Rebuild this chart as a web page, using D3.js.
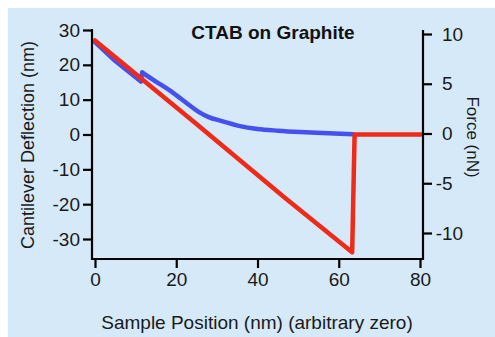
<!DOCTYPE html>
<html>
<head>
<meta charset="utf-8">
<script src="https://cdn.jsdelivr.net/npm/d3@7"></script>
<style>
  html, body { margin: 0; padding: 0; background: #fff; }
  svg { display: block; font-family: 'Liberation Sans', Arial, sans-serif; }
</style>
</head>
<body>
<svg id="chart" width="495" height="337"></svg>
<script>
// data (deflection in nm vs sample position in nm)
const approachTop = [[0, 26.5], [5, 21.1], [11.3, 15.2], [11.6, 17.8]];
const approachRest = [
  [11.6, 17.8], [15, 15.2], [19.3, 11.9], [23, 8.6], [25.5, 6.5], [28, 5.0],
  [31, 3.9], [35.7, 2.4], [40, 1.6], [45, 1.1], [50.5, 0.7], [56, 0.4], [63.5, 0.1]
];
const retract = [
  [0, 27], [25.2, 2.8], [46.8, -18.2], [63.3, -33.8], [63.9, 0], [80.4, 0]
];
const xTicks = [0, 20, 40, 60, 80];
const deflTicks = [-30, -20, -10, 0, 10, 20, 30];
const forceTicks = [-10, -5, 0, 5, 10];

const title = 'CTAB on Graphite';
const xLabel = 'Sample Position (nm) (arbitrary zero)';
const yLabel = 'Cantilever Deflection (nm)';
const y2Label = 'Force (nN)';

const W = 495, H = 337;
const box = { left: 92, right: 423, top: 29, bottom: 259 };

const svg = d3.select('#chart');

// light blue panel
svg.append('rect')
  .attr('x', 8).attr('y', 8)
  .attr('width', W - 8).attr('height', H - 8)
  .attr('fill', '#d5e9f8');

const x = d3.scaleLinear().domain([0, 80]).range([95, 420]);
const yL = d3.scaleLinear().domain([-30, 30]).range([239, 30]);
const yR = d3.scaleLinear().domain([-10, 10]).range([233, 34]);

const lineStraight = d3.line().x(d => x(d[0])).y(d => yL(d[1]));
const lineSmooth = d3.line().x(d => x(d[0])).y(d => yL(d[1])).curve(d3.curveMonotoneX);

function drawCurve(data, gen, color) {
  svg.append('path')
    .datum(data)
    .attr('d', gen)
    .attr('fill', 'none')
    .attr('stroke', color)
    .attr('stroke-width', 4.5)
    .attr('stroke-linejoin', 'round')
    .attr('stroke-linecap', 'round');
}

// blue under red
drawCurve(approachTop, lineStraight, '#4650ee');
drawCurve(approachRest, lineSmooth, '#4650ee');
drawCurve(retract, lineStraight, '#f02a18');

// frame lines
const frame = svg.append('g').attr('stroke', '#000').attr('stroke-width', 2.2);
frame.append('line').attr('x1', box.left).attr('x2', box.left).attr('y1', box.top).attr('y2', box.bottom + 1);
frame.append('line').attr('x1', box.right).attr('x2', box.right).attr('y1', box.top + 1).attr('y2', box.bottom + 1);
frame.append('line').attr('x1', box.left - 1).attr('x2', box.right + 1).attr('y1', box.bottom).attr('y2', box.bottom);

function styleAxis(g) {
  g.select('.domain').remove();
  g.selectAll('.tick line').attr('stroke', '#000').attr('stroke-width', 2.2);
  g.selectAll('.tick text')
    .attr('fill', '#1a1a1a')
    .style('font-size', '19px')
    .style('font-family', "'Liberation Sans', Arial, sans-serif");
}

// left axis
svg.append('g')
  .attr('transform', `translate(${box.left},0)`)
  .call(d3.axisLeft(yL).tickValues(deflTicks).tickSize(9).tickPadding(3).tickFormat(d => String(d)))
  .call(styleAxis);

// right axis
const gR = svg.append('g')
  .attr('transform', `translate(${box.right},0)`)
  .call(d3.axisRight(yR).tickValues(forceTicks).tickSize(9).tickPadding(10).tickFormat(d => String(d)))
  .call(styleAxis);
gR.selectAll('.tick text').attr('dx', d => d < 0 ? '-0.33em' : 0);

// bottom axis
svg.append('g')
  .attr('transform', `translate(0,${box.bottom})`)
  .call(d3.axisBottom(x).tickValues(xTicks).tickSize(9).tickPadding(5).tickFormat(d => String(d)))
  .call(styleAxis);

// texts
svg.append('text')
  .attr('x', 273).attr('y', 39)
  .attr('text-anchor', 'middle')
  .style('font-size', '19px').style('font-weight', 'bold')
  .attr('fill', '#111')
  .text(title);

svg.append('text')
  .attr('x', 257).attr('y', 329)
  .attr('text-anchor', 'middle')
  .style('font-size', '19px')
  .attr('fill', '#1a1a1a')
  .text(xLabel);

svg.append('text')
  .attr('transform', 'translate(34,145) rotate(-90)')
  .attr('text-anchor', 'middle')
  .style('font-size', '18px')
  .attr('fill', '#1a1a1a')
  .text(yLabel);

svg.append('text')
  .attr('transform', 'translate(467,137) rotate(90)')
  .attr('text-anchor', 'middle')
  .style('font-size', '17px')
  .attr('fill', '#1a1a1a')
  .text(y2Label);
</script>
</body>
</html>
